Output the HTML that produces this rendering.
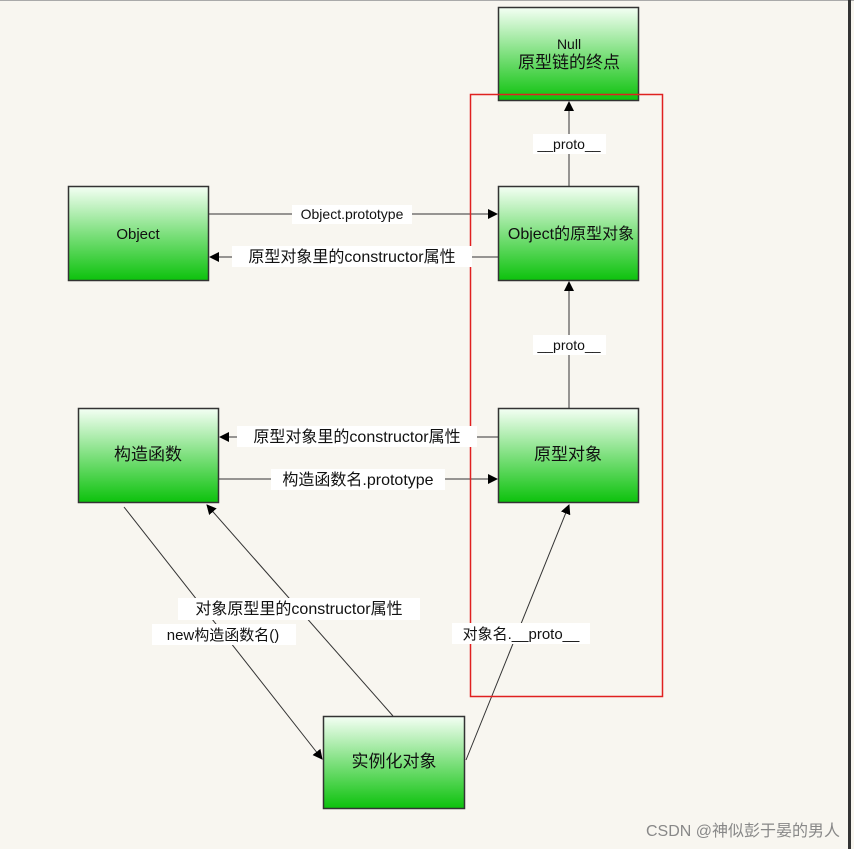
<!DOCTYPE html>
<html><head><meta charset="utf-8"><style>
html,body{margin:0;padding:0;background:#f8f6f0;}
svg{display:block;}
text{font-family:"Liberation Sans","Noto Sans CJK SC",sans-serif;}
</style></head><body>
<svg width="854" height="849" viewBox="0 0 854 849" xmlns="http://www.w3.org/2000/svg">
<defs>
<linearGradient id="g" x1="0" y1="0" x2="0" y2="1">
<stop offset="0" stop-color="#f4fff4"/><stop offset="0.5" stop-color="#7ee07e"/><stop offset="1" stop-color="#0cc20c"/>
</linearGradient>
<marker id="a" markerWidth="10" markerHeight="10" refX="9" refY="5" orient="auto" markerUnits="userSpaceOnUse">
<path d="M0,0 L10,5 L0,10 z" fill="#000"/></marker>
</defs>
<rect width="854" height="849" fill="#f8f6f0"/>
<line x1="0" y1="0.5" x2="854" y2="0.5" stroke="#aaa"/>
<rect x="848" y="0" width="3" height="849" fill="#333"/>
<g stroke="#333" stroke-width="1" fill="none">
<line x1="569" y1="186" x2="569" y2="102" marker-end="url(#a)"/>
<line x1="569" y1="408" x2="569" y2="282" marker-end="url(#a)"/>
<line x1="209" y1="214" x2="497" y2="214" marker-end="url(#a)"/>
<line x1="498" y1="257" x2="210" y2="257" marker-end="url(#a)"/>
<line x1="498" y1="437" x2="220" y2="437" marker-end="url(#a)"/>
<line x1="219" y1="479" x2="497" y2="479" marker-end="url(#a)"/>
<line x1="124" y1="507" x2="322" y2="759" marker-end="url(#a)"/>
<line x1="393" y1="716" x2="207" y2="505" marker-end="url(#a)"/>
<line x1="466" y1="760" x2="569" y2="505" marker-end="url(#a)"/>
</g>
<g stroke="#333" stroke-width="1.5" fill="url(#g)">
<rect x="498.5" y="7.5" width="140" height="93"/>
<rect x="498.5" y="186.5" width="140" height="94"/>
<rect x="68.5" y="186.5" width="140" height="94"/>
<rect x="498.5" y="408.5" width="140" height="94"/>
<rect x="78.5" y="408.5" width="140" height="94"/>
<rect x="323.5" y="716.5" width="141" height="92"/>
</g>
<rect x="470.5" y="94.5" width="192" height="602" fill="none" stroke="#e02020" stroke-width="1.5"/>
<g fill="#fff">
<rect x="533" y="134" width="73" height="20"/>
<rect x="533" y="335" width="73" height="20"/>
<rect x="292" y="205" width="120" height="19"/>
<rect x="232" y="246" width="240" height="21"/>
<rect x="237" y="426" width="240" height="21"/>
<rect x="271" y="469" width="174" height="21"/>
<rect x="178" y="598" width="242" height="22"/>
<rect x="152" y="624" width="144" height="21"/>
<rect x="452" y="623" width="138" height="21"/>
</g>
<g font-size="15" fill="#111" text-anchor="middle">
<text x="569" y="49" font-size="14">Null</text>
<text x="569" y="68" font-size="17">原型链的终点</text>
<text x="571" y="239" font-size="16">Object的原型对象</text>
<text x="138" y="239">Object</text>
<text x="568" y="460" font-size="17">原型对象</text>
<text x="148" y="460" font-size="17">构造函数</text>
<text x="394" y="767" font-size="17">实例化对象</text>
<text x="569" y="149" font-size="14">__proto__</text>
<text x="569" y="350" font-size="14">__proto__</text>
<text x="352" y="219" font-size="14">Object.prototype</text>
<text x="352" y="262" font-size="16">原型对象里的constructor属性</text>
<text x="357" y="442" font-size="16">原型对象里的constructor属性</text>
<text x="358" y="485" font-size="16">构造函数名.prototype</text>
<text x="299" y="614" font-size="16">对象原型里的constructor属性</text>
<text x="223" y="640" font-size="15">new构造函数名()</text>
<text x="521" y="639" font-size="15">对象名.__proto__</text>
</g>
<text x="840" y="836" font-size="16" fill="#888" text-anchor="end">CSDN @神似彭于晏的男人</text>
</svg>
</body></html>
